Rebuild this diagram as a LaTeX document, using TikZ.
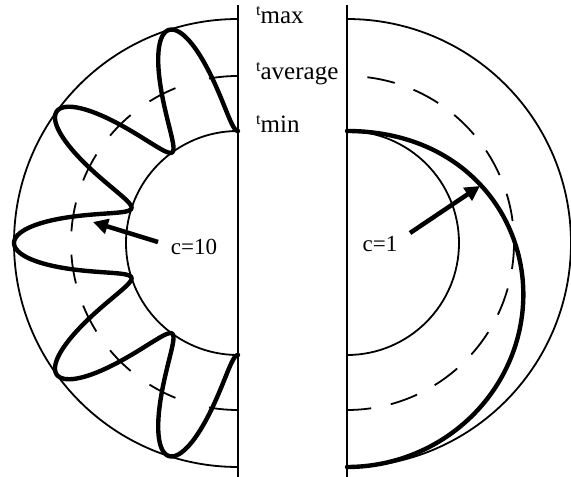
\documentclass[tikz,border=0pt]{standalone}
\usepackage{fontspec}
\setmainfont{Liberation Serif}
\usepackage{tikz}
\usetikzlibrary{arrows.meta, positioning, calc}

\newcommand{\tlabel}[1]{\raisebox{0.3em}{\fontsize{16}{16}\selectfont t}#1}

\begin{document}
\begin{tikzpicture}[
            x=1pt, y=1pt,
            rim/.style={line width=1.8pt},
            axisline/.style={line width=1.6pt},
            temp/.style={line width=4.4pt, line join=round, line cap=round},
            avgtick/.style={line width=1.8pt},
            avgdash/.style={line width=1.8pt, dash pattern=on 28pt off 20pt},
            pointer/.style={line width=4.5pt, -{Triangle[length=15pt, width=15pt]}},
            tlab/.style={anchor=mid west, inner sep=0pt, font=\fontsize{25}{28}\selectfont},
            clab/.style={inner sep=0pt, font=\fontsize{23}{26}\selectfont}
        ]
        \useasboundingbox (0,0) rectangle (571,477);

        % Centres
        \coordinate (L) at (238,234);
        \coordinate (R) at (347,234);

        % The axes
        \coordinate (Ltop) at (238,472);
        \coordinate (Lbot) at (238,0);
        \coordinate (Rtop) at (347,472);
        \coordinate (Rbot) at (347,0);
        \draw[axisline] (Ltop) -- (Lbot);
        \draw[axisline] (Rtop) -- (Rbot);

        % Left half, c=10
        \draw[rim] ([shift={(90:224)}]L) arc[start angle=90, end angle=270, radius=224];
        \draw[rim] ([shift={(90:112)}]L) arc[start angle=90, end angle=270, radius=112];
        \draw[avgtick] ([shift={(90:167)}]L) arc[start angle=90, end angle=100, radius=167];
        \draw[avgtick] ([shift={(260:167)}]L) arc[start angle=260, end angle=270, radius=167];
        \foreach \p in {27,45,...,153}
            \draw[avgtick] ([shift={(90+\p-5:167)}]L) arc[start angle=90+\p-5, end angle=90+\p+5, radius=167];
        \draw[temp] plot[domain=0:180, samples=361]
            ({238+(168-56*cos(10*\x))*cos(90+\x)}, {234+(168-56*cos(10*\x))*sin(90+\x)});

        % Right half, c=1
        \draw[rim] ([shift={(90:224)}]R) arc[start angle=90, end angle=-90, radius=224];
        \draw[rim] ([shift={(90:112)}]R) arc[start angle=90, end angle=-90, radius=112];
        \draw[avgdash] ([shift={(83:167)}]R) arc[start angle=83, end angle=-90, radius=167];
        \draw[temp] plot[domain=0:180, samples=181]
            ({347+(168-56*cos(\x))*cos(90-\x)}, {234+(168-56*cos(\x))*sin(90-\x)});

        % Labels
        \node[tlab] (tmax) at (256,456) {\tlabel{max}};
        \node[tlab] (tavg) at (256,400) {\tlabel{average}};
        \node[tlab] (tmin) at (256,347) {\tlabel{min}};

        \node[clab] (c10) at (194,230) {c=10};
        \node[clab] (c1) at (380,233) {c=1};
        \coordinate (c10tail) at (158,235);
        \coordinate (c10tip) at (93,255);
        \coordinate (c1tail) at (410,244);
        \coordinate (c1tip) at (480,291);
        \draw[pointer] (c10tail) -- (c10tip);
        \draw[pointer] (c1tail) -- (c1tip);

        \end{tikzpicture}
\end{document}
